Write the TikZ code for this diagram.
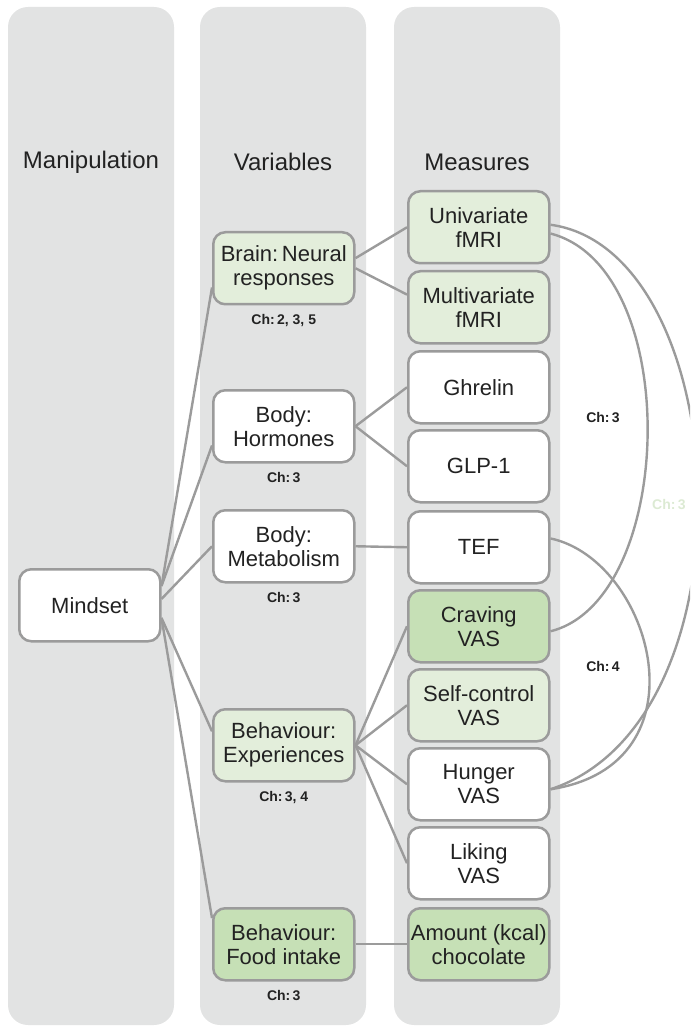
\documentclass[tikz,border=0pt]{standalone}
\usepackage{fontspec}
\setmainfont{Liberation Sans}
\usetikzlibrary{positioning}
\definecolor{ColFill}{HTML}{E2E3E3}
\definecolor{BoxBord}{HTML}{9B9B9B}
\definecolor{GrnSoft}{HTML}{E3EEDB}
\definecolor{GrnMid}{HTML}{C6E0B6}
\definecolor{Ink}{HTML}{222222}
\definecolor{Faded}{HTML}{DCEAD3}
\tikzset{
  every picture/.append style={font=\fontsize{11}{12}\selectfont, text=Ink},
  box/.style={rectangle, rounded corners=6pt, draw=BoxBord, line width=1.25pt, fill=white,
              align=center, minimum width=70.5pt, minimum height=36pt, inner sep=1pt,
              anchor=north west},
  vsoft/.style={box, fill=GrnSoft},
  vmid/.style={box, fill=GrnMid},
  chl/.style={font=\fontsize{7}{8}\selectfont\bfseries, inner sep=1pt},
  hdr/.style={font=\fontsize{12}{13}\selectfont},
  link/.style={draw=BoxBord, line width=1.2pt},
}

\begin{document}
\begin{tikzpicture}[x=0.5pt,y=-0.5pt]
\useasboundingbox (0,0) rectangle (690,1026);
\clip (0,0) rectangle (690,1026);

% ---------------- columns ----------------------------------------------------
\foreach \x/\t [count=\i] in {8/Manipulation, 200/Variables, 394/Measures}{
  \fill[ColFill, rounded corners=10pt] (\x,7) rectangle ++(166,1018);
  \node[hdr] (hd\i) at (\x+83,162) {\t};
}

% ---------------- manipulation -----------------------------------------------
\node[box] (mind) at (18,568) {Mindset};

% ---------------- variables --------------------------------------------------
\node[vsoft] (brain) at (212,231) {Brain:\,Neural\\responses};
\node[box]   (horm)  at (212,389) {Body:\\Hormones};
\node[box]   (metab) at (212,509) {Body:\\Metabolism};
\node[vsoft] (exp)   at (212,708) {Behaviour:\\Experiences};
\node[vmid]  (food)  at (212,907) {Behaviour:\\Food intake};
\node[chl, below=3pt of brain] (chbrain) {Ch:\,2, 3, 5};
\node[chl, below=3pt of horm]  (chhorm)  {Ch:\,3};
\node[chl, below=3pt of metab] (chmetab) {Ch:\,3};
\node[chl, below=3pt of exp]   (chexp)   {Ch:\,3, 4};
\node[chl, below=3pt of food]  (chfood)  {Ch:\,3};

% ---------------- measures ---------------------------------------------------
\node[vsoft] (univ)  at (407,190) {Univariate\\fMRI};
\node[vsoft] (multi) at (407,270) {Multivariate\\fMRI};
\node[box]   (ghre)  at (407,350) {Ghrelin};
\node[box]   (glp)   at (407,429) {GLP-1};
\node[box]   (tef)   at (407,510) {TEF};
\node[vmid]  (crav)  at (407,589) {Craving\\VAS};
\node[vsoft] (self)  at (407,668) {Self-control\\VAS};
\node[box]   (hung)  at (407,747) {Hunger\\VAS};
\node[box]   (like)  at (407,826) {Liking\\VAS};
\node[vmid]  (amt)   at (407,907) {Amount (kcal)\\chocolate};

% ---------------- links ------------------------------------------------------
\draw[link] (mind.15) -- (brain.195);
\draw[link] (mind.15) -- (horm.195);
\draw[link] (mind.5) -- (metab.west);
\draw[link] (mind.-10) -- (exp.169);
\draw[link] (mind.-10) -- (food.160);
\draw[link] (brain.8) -- (univ.west);
\draw[link] (brain.east) -- (multi.170);
\draw[link] (horm.east) -- (ghre.west);
\draw[link] (horm.east) -- (glp.west);
\draw[link] (metab.east) -- (tef.west);
\draw[link] (exp.east) -- (crav.west);
\draw[link] (exp.east) -- (self.west);
\draw[link] (exp.east) -- (hung.west);
\draw[link] (exp.east) -- (like.west);
\draw[link] (food.east) -- (amt.west);

% ---------------- chapter arcs -----------------------------------------------
\draw[link] (univ.-5) .. controls (684,268) and (676,600) .. (crav.-4);
\draw[link] (univ.2.5) .. controls (735,250) and (760,720) .. (hung.-4.5);
\draw[link] (tef.7) .. controls (652,560) and (710,765) .. (hung.-4.5);
\node[chl] (arc3) at (603,418) {Ch:\,3};
\node[chl] (arc4) at (603,666) {Ch:\,4};
\node[chl, text=Faded, anchor=east] (arc3b) at (688,505) {Ch:\,3};

\end{tikzpicture}
\end{document}
